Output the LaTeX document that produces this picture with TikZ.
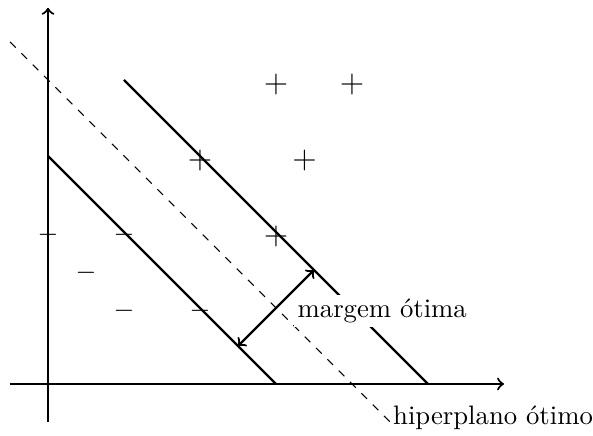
\documentclass[tikz,border=0pt]{standalone}
\usepackage{fontspec}
\begin{document}
\begin{tikzpicture}[x=0.5cm, y=0.5cm, >=to,
    axis/.style={->, thick},
    bound/.style={thick},
    plusdot/.style={font=\large, inner sep=0pt, yshift=-1.5pt},
    minusdot/.style={inner sep=0pt, yshift=-1.2pt}]
    \useasboundingbox (-1.263,-1.368) rectangle (14.342,10.105);

    % Eixos
    \coordinate (xa) at (-1,0);
    \coordinate (xb) at (12,0);
    \coordinate (ya) at (0,-1);
    \coordinate (yb) at (0,9.9);
    \draw[axis] (xa) -- (xb);
    \draw[axis] (ya) -- (yb);

    % Hiperplanos de suporte
    \coordinate (la) at (0,6);
    \coordinate (lb) at (6,0);
    \coordinate (ua) at (2,8);
    \coordinate (ub) at (10,0);
    \draw[bound] (la) -- (lb);
    \draw[bound] (ua) -- (ub);

    % Hiperplano otimo
    \coordinate (ha) at (-1,9);
    \coordinate (hb) at (9,-1);
    \draw[dashed] (ha) -- (hb);
    \node[right, inner sep=1pt, yshift=1.5pt] (hlabel) at (hb) {hiperplano ótimo};

    % Classes
    \foreach \x/\y [count=\i] in {6/8, 8/8, 4/6, 6.75/6, 6/4}
        \node[plusdot] (p\i) at (\x,\y) {$+$};
    \foreach \x/\y [count=\i] in {0/4, 2/4, 1/3, 2/2, 4/2}
        \node[minusdot] (n\i) at (\x,\y) {$-$};

    % Margem
    \coordinate (ma) at (5,1);
    \coordinate (mb) at (7,3);
    \draw[<->, thick] (ma) -- (mb);
    \node[fill=white, inner sep=1.5pt, anchor=west] (mlabel) at (6.45,1.92) {margem ótima};
\end{tikzpicture}
\end{document}
